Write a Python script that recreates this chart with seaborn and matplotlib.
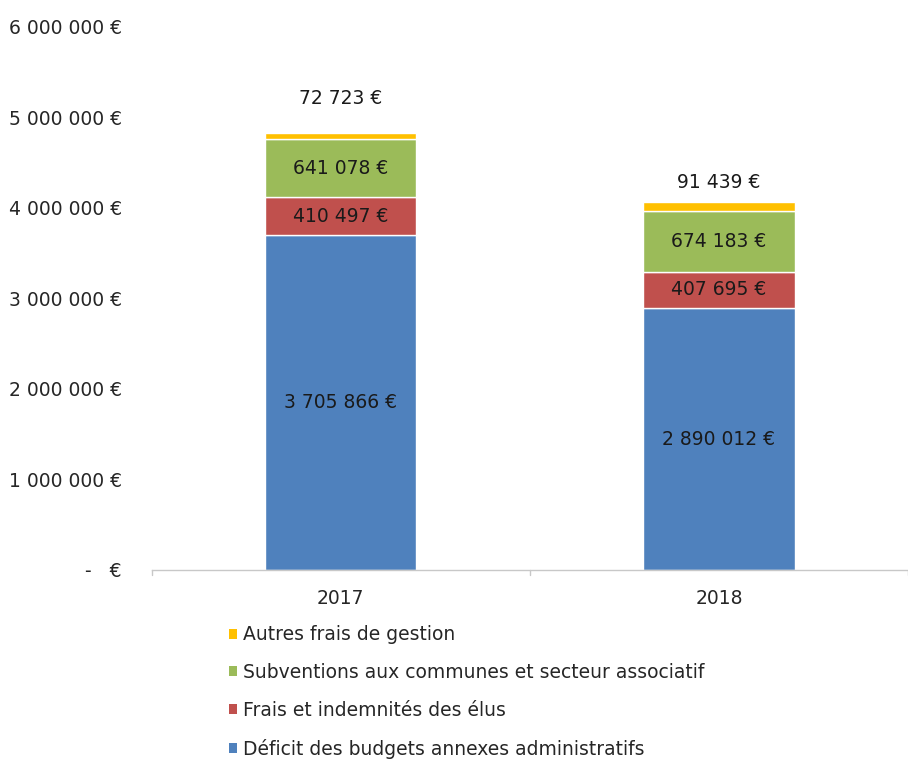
import matplotlib
matplotlib.use('Agg')
import matplotlib.pyplot as plt
import seaborn as sns
import numpy as np
import pandas as pd
from matplotlib.patches import Patch
from matplotlib.ticker import FuncFormatter, FixedLocator

years = ["2017", "2018"]
deficit = [3705866, 2890012]
frais_elus = [410497, 407695]
subventions = [641078, 674183]
autres = [72723, 91439]

series_names = [
    "Déficit des budgets annexes administratifs",
    "Frais et indemnités des élus",
    "Subventions aux communes et secteur associatif",
    "Autres frais de gestion",
]
series_values = [deficit, frais_elus, subventions, autres]
colors = ["#4F81BD", "#C0504D", "#9BBB59", "#FFC000"]

# top labels sit above the bars, as in the source chart
top_label_offsets = [385000, 213000]

FS = 13.5


def fmt_eur(v):
    if v == 0:
        return "-   €"
    return f"{int(v):,}".replace(",", " ") + " €"


sns.set_style("white")
plt.rcParams['font.family'] = ['DejaVu Sans']

fig = plt.figure(figsize=(9.08, 7.62), dpi=100)
ax = fig.add_axes([0.167, 0.252, 0.833, 0.7126])

bottom = np.zeros(len(years))
for name, vals, col in zip(series_names, series_values, colors):
    sns.barplot(x=years, y=vals, bottom=bottom, color=col, width=0.4,
                ax=ax, saturation=1, label=name)
    for i, v in enumerate(vals):
        if name == series_names[-1]:
            y = bottom[i] + v + top_label_offsets[i]
        else:
            y = bottom[i] + v / 2
        ax.text(i, y, fmt_eur(v), ha="center", va="center",
                fontsize=FS, color="#1a1a1a")
    bottom = bottom + np.array(vals)

ax.set_ylim(0, 6000000)
ax.set_xlim(-0.5, 1.5)
ax.yaxis.set_major_locator(FixedLocator(np.arange(0, 6000001, 1000000)))
ax.yaxis.set_major_formatter(FuncFormatter(lambda v, p: fmt_eur(v)))
ax.tick_params(axis="y", length=0, pad=21.5, labelsize=FS, labelcolor="#262626")
ax.tick_params(axis="x", length=0, pad=14, labelsize=FS, labelcolor="#262626")
ax.set_xlabel("")
ax.set_ylabel("")

for s in ["top", "right", "left"]:
    ax.spines[s].set_visible(False)
ax.spines["bottom"].set_color("#c8c8c8")
ax.spines["bottom"].set_linewidth(1)
# category boundary tick marks
for xb in [-0.5, 0.5, 1.5]:
    ax.plot([xb, xb], [0, -60000], color="#c8c8c8", lw=1, clip_on=False)

handles = [Patch(facecolor=c, edgecolor="none") for c in colors][::-1]
labels = series_names[::-1]
ax.legend(handles, labels, loc="upper left", bbox_to_anchor=(0.092, -0.088),
          frameon=False, fontsize=FS, handlelength=0.45, handleheight=0.45,
          handletextpad=0.3, labelspacing=1.0, borderaxespad=0)

fig.savefig("out.png", dpi=100)
